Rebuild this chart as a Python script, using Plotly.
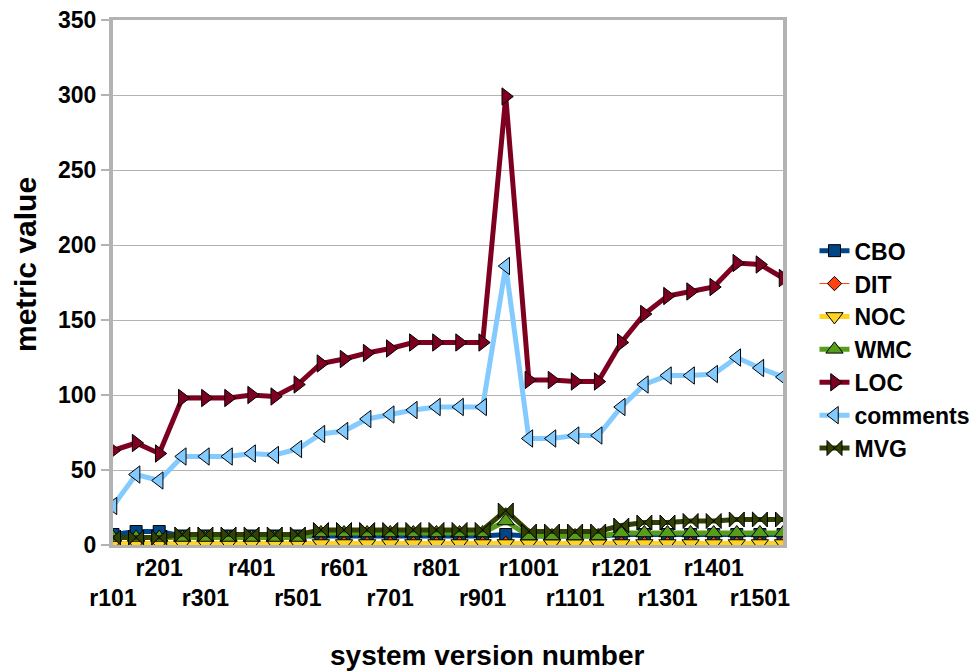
import plotly.graph_objects as go

# Versions sampled every 50 revisions, r101 .. r1551
versions = [f"r{101 + 50 * i}" for i in range(30)]
tick_versions = versions[::2]

cbo = [7, 9, 9, 6, 6, 6, 6, 6, 6, 6, 6, 6, 6, 6, 6, 6, 6, 7, 6, 6, 6, 6, 7, 7, 7, 7, 7, 7, 7, 7]
dit = [1] * 30
noc = [1] * 30
wmc = [5, 5, 5, 5, 5, 5, 5, 5, 5, 8, 8, 8, 8, 8, 8, 8, 8, 16, 6, 6, 6, 6, 8, 8, 8, 8, 8, 8, 8, 8]
loc = [63, 68, 61, 98, 98, 98, 100, 99, 107, 121, 124, 128, 131, 135, 135, 135, 135, 299,
       110, 110, 109, 109, 135, 154, 166, 169, 172, 188, 187, 178]
comments = [26, 47, 43, 59, 59, 59, 61, 60, 64, 74, 76, 84, 87, 90, 92, 92, 92, 186,
            71, 71, 73, 73, 92, 107, 113, 113, 114, 125, 118, 112]
mvg = [5, 5, 5, 7, 7, 7, 7, 7, 7, 10, 10, 10, 10, 10, 10, 10, 10, 23, 9, 9, 9, 9,
       13, 15, 15, 16, 16, 17, 17, 17]

series = [
    ("CBO", cbo, "#004586", "square", 12, 5),
    ("DIT", dit, "#ff420e", "diamond", 11, 1),
    ("NOC", noc, "#ffd320", "triangle-down", 15, 5),
    ("WMC", wmc, "#579d1c", "triangle-up", 15, 5),
    ("LOC", loc, "#7e0021", "triangle-right", 15, 5),
    ("comments", comments, "#83caff", "triangle-left", 15, 5),
    ("MVG", mvg, "#314004", "bowtie", 15, 5),
]

FONT = "Liberation Sans, Arial, sans-serif"
GRAY = "#b3b3b3"

fig = go.Figure()
for name, vals, color, symbol, msize, lw in series:
    fig.add_trace(go.Scatter(
        x=versions, y=vals, name=name, mode="lines+markers",
        line=dict(color=color, width=lw),
        marker=dict(symbol=symbol, size=msize, color=color,
                    line=dict(color="#000000", width=1)),
    ))

# Stagger the version labels over two rows
tick_text = [t if k % 2 == 1 else "<br>" + t for k, t in enumerate(tick_versions)]

fig.update_layout(
    width=975, height=671,
    margin=dict(l=113, r=192, t=20, b=126, autoexpand=False),
    paper_bgcolor="white", plot_bgcolor="white",
    font=dict(family=FONT, color="#000000"),
    showlegend=True,
    legend=dict(
        x=1.047, xanchor="left", y=0.372, yanchor="middle",
        font=dict(family=FONT, size=23, color="#000000", weight="bold"),
        tracegroupgap=0, bgcolor="rgba(0,0,0,0)",
        itemwidth=30,
    ),
    xaxis=dict(
        type="category", range=[0, 29], automargin=False,
        tickmode="array", tickvals=tick_versions, ticktext=tick_text,
        tickangle=0,
        tickfont=dict(family=FONT, size=23, color="#000000", weight="bold"),
        showgrid=False, zeroline=False,
        showline=True, linecolor=GRAY, linewidth=3, mirror=True,
        ticks="", ticklen=0,
    ),
    yaxis=dict(
        range=[0, 350], dtick=50, tick0=0, automargin=False,
        tickfont=dict(family=FONT, size=23, color="#000000", weight="bold"),
        showgrid=True, gridcolor=GRAY, gridwidth=1, zeroline=False,
        showline=True, linecolor=GRAY, linewidth=4, mirror=True,
        ticks="outside", ticklen=8, tickcolor=GRAY, tickwidth=2,
    ),
    annotations=[
        dict(text="<b>system version number</b>", xref="paper", yref="paper",
             x=(487 - 113) / 670, y=(545 - 655) / 525, xanchor="center", yanchor="middle",
             showarrow=False, font=dict(family=FONT, size=28, color="#000000")),
        dict(text="<b>metric value</b>", xref="paper", yref="paper",
             x=(25 - 113) / 670, y=(545 - 265) / 525, xanchor="center", yanchor="middle",
             textangle=-90, showarrow=False,
             font=dict(family=FONT, size=30, color="#000000")),
    ],
)

fig.write_html("out.html")
